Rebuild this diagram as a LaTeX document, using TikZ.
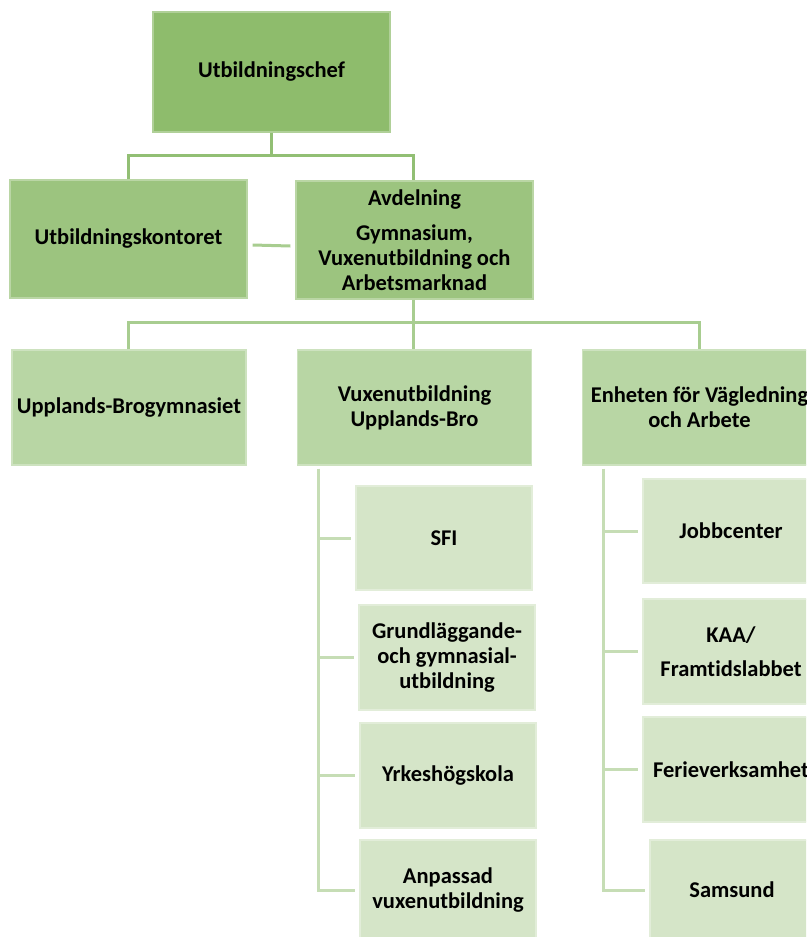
\documentclass[tikz,border=0pt]{standalone}
\usepackage{fontspec}
\setmainfont{Carlito}[Ligatures=NoCommon]
\definecolor{cA}{HTML}{8EBC6C}
\definecolor{cB}{HTML}{9CC47F}
\definecolor{cC}{HTML}{B8D6A4}
\definecolor{cD}{HTML}{D5E5C8}
\definecolor{lA}{HTML}{92BF74}
\definecolor{lB}{HTML}{A8CD90}
\definecolor{lC}{HTML}{C6DDB5}
\begin{document}
\begin{tikzpicture}[x=1pt,y=-1pt,
  box/.style={rectangle, inner sep=0pt, align=center, text=black,
    font=\fontsize{22.5}{25}\selectfont\bfseries, line width=1.2pt},
  boxA/.style={box, fill=cA, draw=cA!70!white, minimum width=237pt, minimum height=120pt},
  boxB/.style={box, fill=cB, draw=cB!70!white, minimum width=237pt, minimum height=118pt},
  boxC/.style={box, fill=cC, draw=cC!70!white, minimum width=234pt, minimum height=115pt},
  boxD/.style={box, fill=cD, draw=cD!70!white, minimum width=176pt, minimum height=104pt},
  linkA/.style={draw=lA, line width=3pt},
  linkB/.style={draw=lB, line width=3pt},
  linkC/.style={draw=lC, line width=3pt}]
\useasboundingbox (0,0) rectangle (806,937);
\clip (0,0) rectangle (806,937);
\fill[white] (0,0) rectangle (806,937);

% level 1 and 2
\node[boxA] (chef) at (271.5,72) {Utbildningschef};
\node[boxB] (kontor) at (128.5,239) {Utbildningskontoret};
\node[boxB] (avd) at (414.5,240) {Avdelning\\[10pt]Gymnasium,\\Vuxenutbildning och\\Arbetsmarknad};

% level 3
\node[boxC] (gym) at (129,407.5) {Upplands-Brogymnasiet};
\node[boxC] (vux) at (414.5,407.5) {Vuxenutbildning\\Upplands-Bro};
\node[boxC] (enh) at (699.5,407.5) {Enheten för Vägledning\\och Arbete};

% level 4 left
\node[boxD] (sfi) at (444,538) {SFI};
\node[boxD, minimum height=105pt] (grund) at (447,657.5) {Grundläggande-\\och gymnasial-\\utbildning};
\node[boxD, minimum height=105pt] (yrk) at (448,775.5) {Yrkeshögskola};
\node[boxD, minimum height=100pt] (anp) at (448,890) {Anpassad\\vuxenutbildning};

% level 4 right
\node[boxD] (jobb) at (731,531) {Jobbcenter};
\node[boxD, minimum height=105pt] (kaa) at (731,651.5) {KAA/\\[9pt]Framtidslabbet};
\node[boxD, minimum height=105pt] (ferie) at (731,769.5) {Ferieverksamhet};
\node[boxD, minimum width=164pt, minimum height=100pt] (sams) at (732,890) {Samsund};

% connectors level 1 -> 2
\coordinate (busA) at (0,155);
\draw[linkA] (chef.south) -- (chef.south |- busA);
\draw[linkA] (kontor.north) -- (kontor.north |- busA) -| ([xshift=-1.5pt]avd.north);
\draw[linkB] ([xshift=5pt,yshift=-6pt]kontor.east) -- ([xshift=-5pt,yshift=-6pt]avd.west);

% connectors level 2 -> 3
\coordinate (busB) at (0,322);
\draw[linkB] ([xshift=-1.5pt]avd.south) -- ([xshift=-1.5pt]vux.north);
\draw[linkB] ([xshift=-1pt]gym.north) -- ([xshift=-1pt]gym.north |- busB) -| ([xshift=-0.5pt]enh.north);

% connectors level 3 -> 4 (left)
\coordinate (vt) at ([xshift=22pt,yshift=-3pt]vux.south west);
\draw[linkC] (vt) |- ([xshift=-4pt]anp.west);
\draw[linkC] (vt |- sfi.west) -- ([xshift=-4pt]sfi.west);
\draw[linkC] (vt |- grund.west) -- ([xshift=-4pt]grund.west);
\draw[linkC] (vt |- yrk.west) -- ([xshift=-4pt]yrk.west);

% connectors level 3 -> 4 (right)
\coordinate (et) at ([xshift=22pt,yshift=-3pt]enh.south west);
\draw[linkC] (et) |- ([xshift=-4pt]sams.west);
\draw[linkC] (et |- jobb.west) -- ([xshift=-4pt]jobb.west);
\draw[linkC] (et |- kaa.west) -- ([xshift=-4pt]kaa.west);
\draw[linkC] (et |- ferie.west) -- ([xshift=-4pt]ferie.west);
\end{tikzpicture}
\end{document}
